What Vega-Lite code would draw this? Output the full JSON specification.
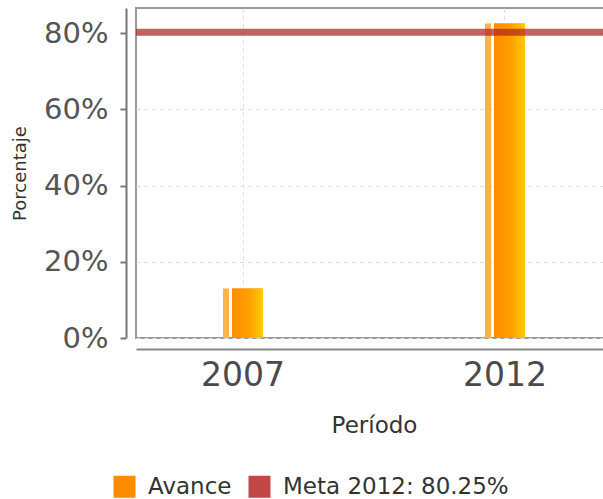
{
  "$schema": "https://vega.github.io/schema/vega-lite/v6.json",
  "autosize": "none",
  "width": 476,
  "height": 330,
  "padding": {"left": 136, "top": 8, "right": 0, "bottom": 161},
  "background": "white",
  "config": {
    "font": "DejaVu Sans",
    "view": {"stroke": "#999999", "strokeWidth": 2}
  },
  "data": {"values": [
    {"Periodo": "2007", "Avance": 0.13},
    {"Periodo": "2012", "Avance": 0.825}
  ]},
  "encoding": {
    "x": {
      "field": "Periodo", "type": "ordinal",
      "scale": {"paddingInner": 0.847, "paddingOuter": 0.332},
      "axis": {
        "title": "Período", "titleFontSize": 23, "titleFontWeight": "normal", "titleColor": "#333333", "titlePadding": 22,
        "labelFontSize": 33, "labelColor": "#4a4a4a", "labelPadding": 10, "labelAngle": 0,
        "ticks": false, "offset": 11, "domainColor": "#888888", "domainWidth": 2,
        "grid": true, "bandPosition": 0.5, "gridDash": [4, 4], "gridColor": "#dddddd"
      }
    },
    "y": {
      "field": "Avance", "type": "quantitative",
      "scale": {"domain": [0, 0.866], "nice": false},
      "axis": {
        "title": "Porcentaje", "titleFontSize": 18, "titleFontWeight": "normal", "titleColor": "#333333", "titlePadding": 14,
        "format": ".0%", "values": [0, 0.2, 0.4, 0.6, 0.8],
        "labelFontSize": 29, "labelColor": "#555555", "labelPadding": 12,
        "tickSize": 6, "tickWidth": 2, "tickColor": "#777777",
        "offset": 10, "domainColor": "#777777", "domainWidth": 2,
        "grid": true, "gridDash": [4, 4], "gridColor": "#dcdcdc"
      }
    }
  },
  "layer": [
    {
      "mark": {"type": "bar", "width": 31, "xOffset": 4.5},
      "encoding": {
        "fill": {
          "datum": "Avance",
          "scale": {"domain": ["Avance", "Meta 2012: 80.25%"], "range": ["#ff8c00", "#c24848"]},
          "legend": {
            "title": null, "orient": "none", "legendX": -23, "legendY": 467,
            "direction": "horizontal", "symbolType": "square", "symbolSize": 484,
            "symbolStrokeWidth": 0, "labelFontSize": 23, "labelColor": "#333333",
            "labelOffset": 12, "columnPadding": 16, "labelLimit": 400
          }
        }
      }
    },
    {
      "mark": {
        "type": "bar", "width": 31, "xOffset": 4.5,
        "color": {
          "gradient": "linear", "x1": 0, "x2": 1, "y1": 0, "y2": 0,
          "stops": [
            {"offset": 0, "color": "#ff8c00"},
            {"offset": 0.55, "color": "#ffa000"},
            {"offset": 1, "color": "#ffca00"}
          ]
        }
      }
    },
    {
      "mark": {"type": "bar", "width": 6, "xOffset": -17, "color": "#ffb347"}
    },
    {
      "data": {"values": [{"meta": 0.8025}]},
      "mark": {"type": "rule", "color": "#b22222", "opacity": 0.72, "strokeWidth": 7},
      "encoding": {"y": {"field": "meta", "type": "quantitative"}, "x": null}
    }
  ]
}
